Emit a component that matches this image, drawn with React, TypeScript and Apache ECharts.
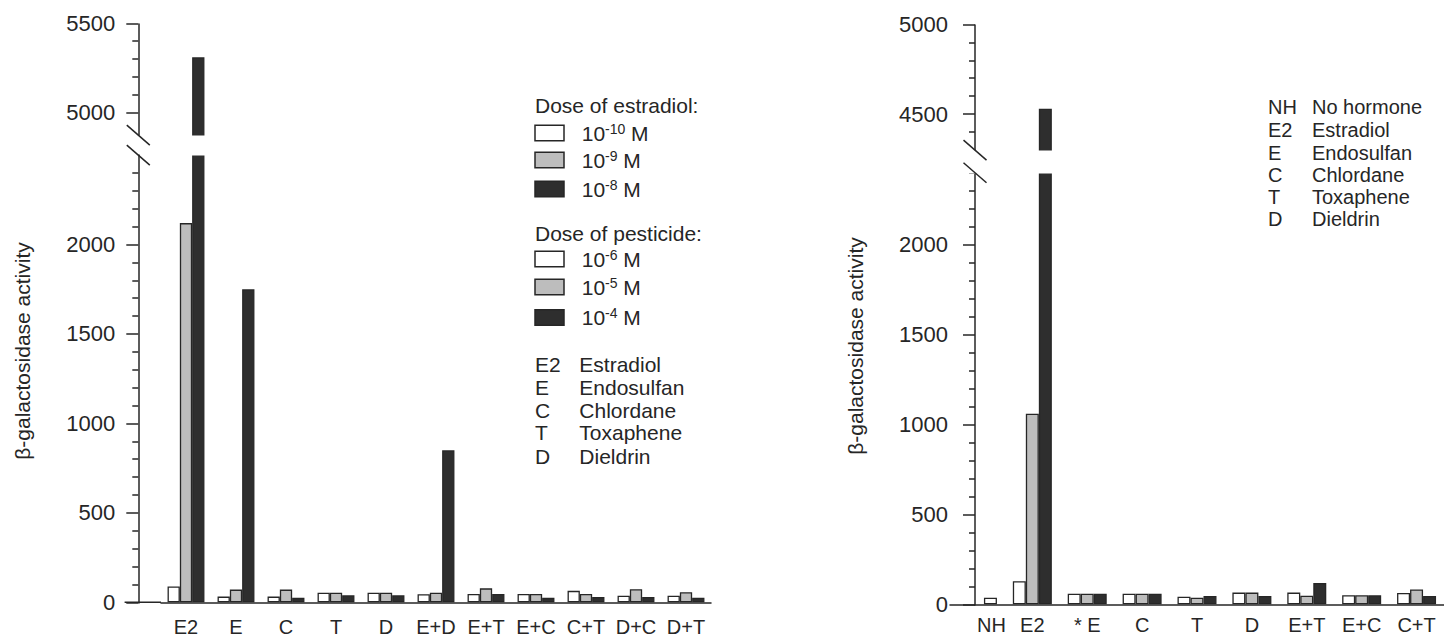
import { useEffect, useRef } from 'react';
import * as echarts from 'echarts';

// ---------- data ----------
const LEFT_CATEGORIES = ['E2', 'E', 'C', 'T', 'D', 'E+D', 'E+T', 'E+C', 'C+T', 'D+C', 'D+T'];
const LEFT_LOW = [89, 32, 32, 54, 54, 45, 47, 47, 64, 37, 37];
const LEFT_MID = [2120, 71, 71, 54, 54, 54, 78, 47, 47, 73, 56];
const LEFT_HIGH = [5310, 1750, 25, 39, 39, 850, 47, 25, 30, 30, 26];
const LEFT_MAJOR_TICKS = [0, 500, 1000, 1500, 2000, 5000, 5500];
const LEFT_MINOR_TICKS = [100, 200, 300, 400, 600, 700, 800, 900, 1100, 1200, 1300, 1400, 1600, 1700, 1800, 1900, 2100, 2200, 2300, 2400, 5100, 5200, 5300, 5400];
const LEFT_BREAK = { start: 2500, end: 4875, gap: 112 };

const RIGHT_CATEGORIES = ['NH', 'E2', '* E', 'C', 'T', 'D', 'E+T', 'E+C', 'C+T'];
const NO_HORMONE = 37;
const RIGHT_LOW = [128, 59, 59, 42, 65, 65, 50, 63];
const RIGHT_MID = [1060, 59, 59, 37, 65, 48, 50, 83];
const RIGHT_HIGH = [4530, 59, 59, 46, 46, 118, 50, 46];
const RIGHT_MAJOR_TICKS = [0, 500, 1000, 1500, 2000, 4500, 5000];
const RIGHT_MINOR_TICKS = [100, 200, 300, 400, 600, 700, 800, 900, 1100, 1200, 1300, 1400, 1600, 1700, 1800, 1900, 2100, 2200, 2300, 2400, 4400, 4600, 4700, 4800, 4900];
const RIGHT_BREAK = { start: 2400, end: 4300, gap: 126 };

const ESTRADIOL_DOSES = ['-10', '-9', '-8'];
const PESTICIDE_DOSES = ['-6', '-5', '-4'];
const LEFT_ABBREV = [['E2', 'Estradiol'], ['E', 'Endosulfan'], ['C', 'Chlordane'], ['T', 'Toxaphene'], ['D', 'Dieldrin']];
const RIGHT_ABBREV = [['NH', 'No hormone'], ['E2', 'Estradiol'], ['E', 'Endosulfan'], ['C', 'Chlordane'], ['T', 'Toxaphene'], ['D', 'Dieldrin']];

// ---------- styles ----------
const FONT = '"Liberation Sans", Arial, Helvetica, sans-serif';
const INK = '#262626';
const WHITE = '#ffffff';
const GRAY = '#bdbdbd';
const BLACK = '#2e2e2e';
const FILLS = [WHITE, GRAY, BLACK];

const L_GRID = { left: 161, top: 23.3, width: 550, height: 579 };
const L_AXIS_X = 138.3;
const R_GRID = { left: 950, top: 24.3, width: 494, height: 580 };
const R_AXIS_X = 975;

const barStyle = (c: string) => ({ color: c, borderColor: INK, borderWidth: 1.3 });

function yAxes(gridIndex: number, max: number, brk: any, major: number[], minor: number[], offset: number) {
  const common = {
    type: 'value',
    gridIndex,
    min: 0,
    max,
    position: 'left',
    offset,
    breaks: [{ start: brk.start, end: brk.end, gap: brk.gap }],
    splitLine: { show: false },
  };
  return [
    {
      ...common,
      breakArea: {
        show: true,
        itemStyle: { color: '#fff', borderColor: '#fff', borderWidth: 0, opacity: 1 },
        zigzagAmplitude: 0,
        zigzagZ: 100,
        expandOnClick: false,
      },
      axisLine: { show: true, lineStyle: { color: INK, width: 1.5 } },
      axisTick: { show: true, length: 12, customValues: major, lineStyle: { color: INK, width: 1.5 } },
      axisLabel: {
        show: true,
        customValues: major,
        margin: gridIndex === 0 ? 23 : 27,
        fontSize: 22,
        fontFamily: FONT,
        color: INK,
        formatter: (v: number) => String(v),
      },
    },
    {
      ...common,
      breakArea: { show: false },
      axisLine: { show: false },
      axisTick: { show: true, length: 6, customValues: minor, lineStyle: { color: INK, width: 1.5 } },
      axisLabel: { show: false },
    },
  ];
}

function xAxis(gridIndex: number, data: string[], margin: number) {
  return {
    type: 'category',
    gridIndex,
    data,
    axisLine: { show: true, lineStyle: { color: INK, width: 1.5 } },
    axisTick: { show: false },
    axisLabel: {
      margin,
      fontSize: 20,
      fontFamily: FONT,
      color: INK,
      interval: 0,
      formatter: (v: string) => (v === 'NH' ? '{nh|NH}' : v),
      rich: { nh: { fontSize: 20, fontFamily: FONT, color: INK, padding: [0, 0, 0, 28] } },
    },
  };
}

function buildOption() {
  const leftSeries = [LEFT_LOW, LEFT_MID, LEFT_HIGH].map((d, i) => ({
    type: 'bar',
    xAxisIndex: 0,
    yAxisIndex: 0,
    data: d,
    barWidth: 12.3,
    barGap: '0%',
    itemStyle: barStyle(FILLS[i]),
  }));
  // the single "No hormone" bar sits in the right-hand slot of its group, as in the original
  const rightData = [
    [null, ...RIGHT_LOW],
    [null, ...RIGHT_MID],
    [{ value: NO_HORMONE, itemStyle: barStyle(WHITE) }, ...RIGHT_HIGH],
  ];
  const rightSeries = rightData.map((d, i) => ({
    type: 'bar',
    xAxisIndex: 1,
    yAxisIndex: 2,
    data: d,
    barWidth: 13,
    barGap: '0%',
    itemStyle: barStyle(FILLS[i]),
  }));
  return {
    animation: false,
    backgroundColor: '#ffffff',
    textStyle: { fontFamily: FONT },
    grid: [L_GRID, R_GRID],
    xAxis: [xAxis(0, LEFT_CATEGORIES, 15), xAxis(1, RIGHT_CATEGORIES, 11)],
    yAxis: [
      ...yAxes(0, 5500, LEFT_BREAK, LEFT_MAJOR_TICKS, LEFT_MINOR_TICKS, L_GRID.left - L_AXIS_X),
      ...yAxes(1, 5000, RIGHT_BREAK, RIGHT_MAJOR_TICKS, RIGHT_MINOR_TICKS, R_GRID.left - R_AXIS_X),
    ],
    series: [...leftSeries, ...rightSeries],
  };
}

function txt(x: number, y: number, text: string, size = 21, extra: any = {}) {
  return {
    type: 'text',
    x,
    y,
    z: 200,
    style: {
      text,
      fontSize: size,
      fontFamily: FONT,
      fill: INK,
      align: 'left',
      verticalAlign: 'middle',
      rich: { s: { fontSize: 14, fontFamily: FONT, fill: INK, padding: [0, 0, 9, 0] } },
      ...extra,
    },
  };
}

function legendGraphics() {
  const g: any[] = [];
  g.push(txt(535, 105, 'Dose of estradiol:'));
  [133, 160, 189].forEach((cy, i) => {
    g.push({ type: 'rect', z: 200, shape: { x: 535, y: cy - 7.75, width: 29, height: 15.5 }, style: { fill: FILLS[i], stroke: INK, lineWidth: 1.5 } });
    g.push(txt(581.7, cy, `10{s|${ESTRADIOL_DOSES[i]}} M`));
  });
  g.push(txt(535, 233, 'Dose of pesticide:'));
  [259, 287, 317.5].forEach((cy, i) => {
    g.push({ type: 'rect', z: 200, shape: { x: 535, y: cy - 7.75, width: 29, height: 15.5 }, style: { fill: FILLS[i], stroke: INK, lineWidth: 1.5 } });
    g.push(txt(581.7, cy, `10{s|${PESTICIDE_DOSES[i]}} M`));
  });
  [364, 387, 410, 432.5, 456].forEach((cy, i) => {
    g.push(txt(535, cy, LEFT_ABBREV[i][0]));
    g.push(txt(579.3, cy, LEFT_ABBREV[i][1]));
  });
  [106.7, 130, 153, 175, 196.7, 219].forEach((cy, i) => {
    g.push(txt(1268, cy, RIGHT_ABBREV[i][0], 20));
    g.push(txt(1312, cy, RIGHT_ABBREV[i][1], 20));
  });
  g.push(txt(22, 351, 'β-galactosidase activity', 21, { align: 'center' }));
  g[g.length - 1].rotation = Math.PI / 2;
  g.push(txt(855, 346, 'β-galactosidase activity', 21, { align: 'center' }));
  g[g.length - 1].rotation = Math.PI / 2;
  return g;
}

export default function App() {
  const ref = useRef<HTMLDivElement>(null);
  useEffect(() => {
    if (!ref.current) return;
    const chart = echarts.init(ref.current, null, { renderer: 'svg' });
    chart.setOption(buildOption() as any);

    const g = legendGraphics();
    const addBreak = (yAxisIndex: number, axisX: number, brk: any) => {
      const yLow = chart.convertToPixel({ yAxisIndex } as any, brk.start) as unknown as number;
      const yHigh = chart.convertToPixel({ yAxisIndex } as any, brk.end) as unknown as number;
      g.push({ type: 'rect', z: 300, shape: { x: axisX - 3, y: yHigh + 1, width: 6, height: yLow - yHigh - 2 }, style: { fill: '#fff' } });
      [yHigh, yLow].forEach((y) => {
        g.push({ type: 'line', z: 310, shape: { x1: axisX - 11.5, y1: y - 10, x2: axisX + 11.5, y2: y + 10 }, style: { stroke: INK, lineWidth: 1.5 } });
      });
    };
    addBreak(0, L_AXIS_X, LEFT_BREAK);
    addBreak(2, R_AXIS_X, RIGHT_BREAK);
    const baseL = chart.convertToPixel({ yAxisIndex: 0 } as any, 0) as unknown as number;
    g.push({ type: 'line', z: 50, shape: { x1: 124.6, y1: baseL, x2: L_GRID.left, y2: baseL }, style: { stroke: INK, lineWidth: 1.5 } });
    chart.setOption({ graphic: g } as any);
    return () => chart.dispose();
  }, []);
  return <div ref={ref} style={{ position: 'absolute', left: 0, top: 0, width: 1444, height: 640 }} />;
}
